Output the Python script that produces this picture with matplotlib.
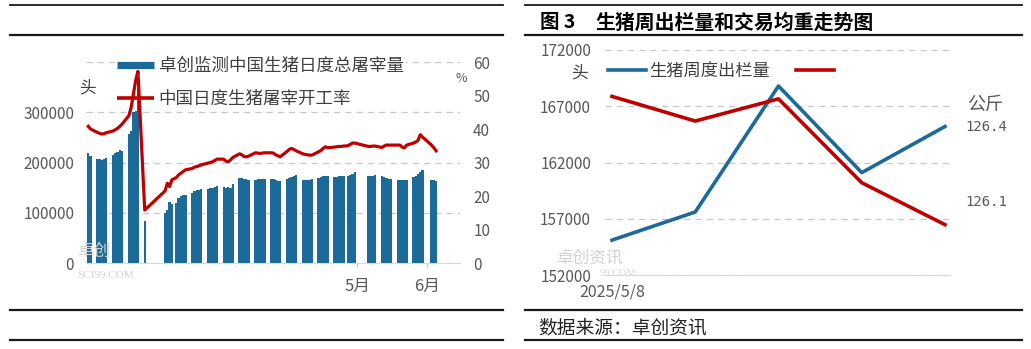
import matplotlib.pyplot as plt
import matplotlib.dates as mdates
from matplotlib.lines import Line2D
import numpy as np
import pandas as pd

plt.rcParams['font.family'] = ['Noto Sans CJK SC', 'DejaVu Sans']

W, H = 1031, 349
BLUE = '#1b6a98'
RED = '#c00000'
GREY = '#595959'
DARK = '#404040'
N = None

# daily slaughter volume (head), one row per week, Mon..Sun, from 2024-12-30
slaughter = [
    [N, N, N, 219000, 213000, N, N],
    [207000, 206000, 205000, 206000, 209000, N, N],
    [215000, 218000, 221000, 225000, 223000, N, N],
    [256000, 262000, 300000, 302000, 348000, N, N],
    [83000, N, N, N, N, N, N],
    [N, N, 100000, 106000, 121000, 118000, N],
    [120000, 130000, 134000, 136000, 135000, N, N],
    [140000, 143000, 145000, 146000, 147000, N, N],
    [148000, 149000, 150000, 152000, 154000, N, N],
    [151000, 150000, 151000, 150000, 158000, N, N],
    [170000, 169000, 168000, 167000, 165000, N, N],
    [166000, 167000, 168000, 168000, 167000, N, N],
    [167000, 167000, 165000, 164000, 163000, N, N],
    [168000, 170000, 172000, 173000, 175000, N, N],
    [166000, 166000, 165000, 166000, 167000, N, N],
    [170000, 172000, 173000, 173000, 173000, N, N],
    [171000, 172000, 173000, 173000, 174000, N, 174000],
    [175000, 177000, 181000, N, N, N, N],
    [N, 173000, 174000, 174000, 175000, N, N],
    [173000, 172000, 170000, 168000, 167000, N, N],
    [166000, 166000, 166000, 166000, 166000, N, N],
    [171000, 174000, 178000, 182000, 186000, N, N],
    [N, 166000, 165000, 164000, N, N, N],
]

# daily slaughter utilisation rate (%), same layout
util_rate = [
    [N, N, N, 40.8, 40.0, N, N],
    [39.0, 38.7, 38.5, 38.6, 38.9, N, N],
    [39.4, 39.8, 40.2, 40.8, 41.5, N, N],
    [44.0, 46.5, 50.5, 54.5, 57.2, N, N],
    [15.8, N, N, N, N, N, N],
    [N, N, 21.5, 23.8, 22.8, 24.8, N],
    [25.5, 26.3, 26.8, 27.3, 27.8, N, N],
    [28.2, 28.6, 28.8, 29.0, 29.3, N, N],
    [29.8, 30.0, 30.2, 30.6, 31.0, N, N],
    [31.0, 30.4, 30.2, 30.8, 31.5, N, N],
    [32.6, 32.3, 31.8, 31.7, 31.9, N, N],
    [32.9, 32.8, 32.7, 32.8, 32.9, N, N],
    [32.9, 32.8, 32.3, 32.0, 31.7, N, N],
    [33.3, 33.9, 34.2, 33.9, 33.5, N, N],
    [32.6, 32.4, 32.3, 32.2, 32.2, N, N],
    [33.2, 33.6, 34.2, 34.7, 34.4, N, N],
    [34.6, 34.7, 34.8, 34.8, 34.9, N, 35.0],
    [35.4, 35.8, 35.8, N, N, N, N],
    [N, 34.8, 34.8, 34.9, 34.9, N, N],
    [34.5, 34.9, 35.2, 35.2, 35.2, N, N],
    [35.2, 35.2, 34.6, 34.4, 35.2, N, N],
    [35.8, 36.1, 36.6, 38.3, 37.6, N, N],
    [N, 35.2, 34.4, 33.5, N, N, N],
]

# weekly hog sales and average traded weight
weeks = ['2025/5/8', '2025/5/15', '2025/5/22', '2025/5/29', '2025/6/5']
weekly_sales = [155100, 157600, 168800, 161100, 165200]
avg_weight = [126.52, 126.42, 126.51, 126.17, 126.00]


def fx(x):
    return x / W


def fy(y):
    return 1 - y / H


fig = plt.figure(figsize=(W / 100, H / 100), dpi=100)

# ---------- left: daily slaughter ----------
days = pd.date_range('2024-12-30', periods=len(slaughter) * 7)
vol = pd.Series([v for row in slaughter for v in row], index=days, dtype=float).dropna()
rate = pd.Series([v for row in util_rate for v in row], index=days, dtype=float).dropna()

ax1 = fig.add_axes([fx(86), fy(263), fx(460) - fx(86), fy(62) - fy(263)])
ax1.set_axisbelow(True)
ax1.bar(vol.index, vol.values, width=1.0, color=BLUE, linewidth=0, zorder=1)
x0 = mdates.date2num(pd.Timestamp('2025-01-01'))
ax1.set_xlim(x0, x0 + 165.6)
ax1.set_ylim(0, 400000)
ax1.set_yticks([0, 100000, 200000, 300000, 400000])
ax1.set_yticklabels(['0', '100000', '200000', '300000', ''])
ax1.grid(axis='y', color='#c8c8c8', linestyle=(0, (5, 4)), linewidth=0.9)
ax1.set_xticks([mdates.date2num(pd.Timestamp('2025-05-01')),
                mdates.date2num(pd.Timestamp('2025-06-01'))])
ax1.set_xticklabels(['5月', '6月'])
ax1.tick_params(axis='x', length=3, color='#bfbfbf', pad=8, labelsize=12, labelcolor=GREY)
ax1.tick_params(axis='y', length=0, pad=8.5, labelsize=11, labelcolor=GREY)
for s in ['top', 'left', 'right']:
    ax1.spines[s].set_visible(False)
ax1.spines['bottom'].set_color('#d9d9d9')

ax1b = ax1.twinx()
ax1b.plot(rate.index, rate.values, color=RED, linewidth=2.3, solid_joinstyle='round')
ax1b.set_ylim(0, 60)
ax1b.set_yticks(range(0, 61, 10))
ax1b.tick_params(axis='y', length=0, pad=9.5, labelsize=11, labelcolor=GREY)
for s in ax1b.spines.values():
    s.set_visible(False)

handles = [Line2D([], [], color=BLUE, linewidth=5.2, solid_capstyle='butt'),
           Line2D([], [], color=RED, linewidth=2.6, solid_capstyle='butt')]
leg = ax1.legend(handles, ['卓创监测中国生猪日度总屠宰量', '中国日度生猪屠宰开工率'],
                 loc='upper left', bbox_to_anchor=(fx(115), fy(55)),
                 bbox_transform=fig.transFigure, fontsize=12.6, frameon=True,
                 facecolor='white', edgecolor='none', framealpha=1,
                 borderpad=0.1, borderaxespad=0, handlelength=2.1,
                 handletextpad=0.3, labelspacing=0.85)
leg.set_zorder(0.8)
for t in leg.get_texts():
    t.set_color(DARK)

fig.text(fx(87), fy(88), '头', fontsize=12, color=DARK, ha='center', va='center')
fig.text(fx(461), fy(78), '%', fontsize=9, color=GREY, ha='center', va='center')
fig.text(fx(77), fy(251), '卓创', fontsize=12, color='#d2d2d2', va='center')
fig.text(fx(77), fy(276), 'SCI99.COM', fontsize=8, color='#d2d2d2', va='center',
         family='Liberation Serif')

# ---------- right: weekly sales and weight ----------
xs = np.arange(len(weeks))
ax2 = fig.add_axes([fx(605), fy(275), fx(950) - fx(605), fy(50) - fy(275)])
ax2.set_axisbelow(True)
blue_line, = ax2.plot(xs, weekly_sales, color=BLUE, linewidth=2.6, zorder=3)
ax2.set_xlim(-0.084, 4.06)
ax2.set_ylim(152000, 172000)
ax2.set_yticks(range(152000, 172001, 5000))
ax2.grid(axis='y', color='#c8c8c8', linestyle=(0, (5, 4)), linewidth=0.9)
ax2.set_xticks([0])
ax2.set_xticklabels(weeks[:1])
ax2.tick_params(axis='x', length=0, pad=6, labelsize=11.5, labelcolor=GREY)
ax2.tick_params(axis='y', length=0, pad=10, labelsize=11, labelcolor=GREY)
for s in ['top', 'left', 'right']:
    ax2.spines[s].set_visible(False)
ax2.spines['bottom'].set_color('#d9d9d9')

ax2r = ax2.twinx()
red_line, = ax2r.plot(xs, avg_weight, color=RED, linewidth=2.6)
ax2r.set_ylim(125.796, 126.708)
ax2r.set_yticks([126.1, 126.4])
ax2r.set_yticklabels(['126.1', '126.4'], family='DejaVu Sans Mono')
ax2r.tick_params(axis='y', length=0, pad=11, labelsize=10, labelcolor=GREY)
for s in ax2r.spines.values():
    s.set_visible(False)

leg2 = ax2.legend([blue_line, red_line], ['生猪周度出栏量', ''], ncol=2,
                  loc='upper left', bbox_to_anchor=(fx(608), fy(62)),
                  bbox_transform=fig.transFigure, fontsize=12.4, frameon=False,
                  borderpad=0, borderaxespad=0, handlelength=2.2,
                  handletextpad=0.2, columnspacing=1.5)
for t in leg2.get_texts():
    t.set_color(DARK)

fig.text(fx(579), fy(73), '头', fontsize=12, color=DARK, ha='center', va='center')
fig.text(fx(985), fy(105), '公斤', fontsize=13, color=GREY, ha='center', va='center')
fig.text(fx(556), fy(258), '卓创资讯', fontsize=12, color='#d2d2d2', va='center')
fig.text(fx(600), fy(273), '99.COM', fontsize=7.5, color='#d8d8d8', va='center',
         family='Liberation Serif')

fig.text(fx(540), fy(22), '图 3', fontsize=14, fontweight='bold', va='center')
fig.text(fx(595), fy(22), '生猪周出栏量和交易均重走势图', fontsize=14.3,
         fontweight='bold', va='center')
fig.text(fx(538), fy(328), '数据来源：卓创资讯', fontsize=13.5, color='#222222', va='center')

# page rules above and below both figures
for x_a, x_b in [(10, 503), (525, 1022)]:
    for y, lw in [(5, 1.3), (35, 1.6), (310, 1.6), (340, 1.6)]:
        fig.add_artist(Line2D([fx(x_a), fx(x_b)], [fy(y), fy(y)], color='#1a1a1a',
                              linewidth=lw, transform=fig.transFigure))

fig.savefig('out.png', dpi=100, facecolor='white')
